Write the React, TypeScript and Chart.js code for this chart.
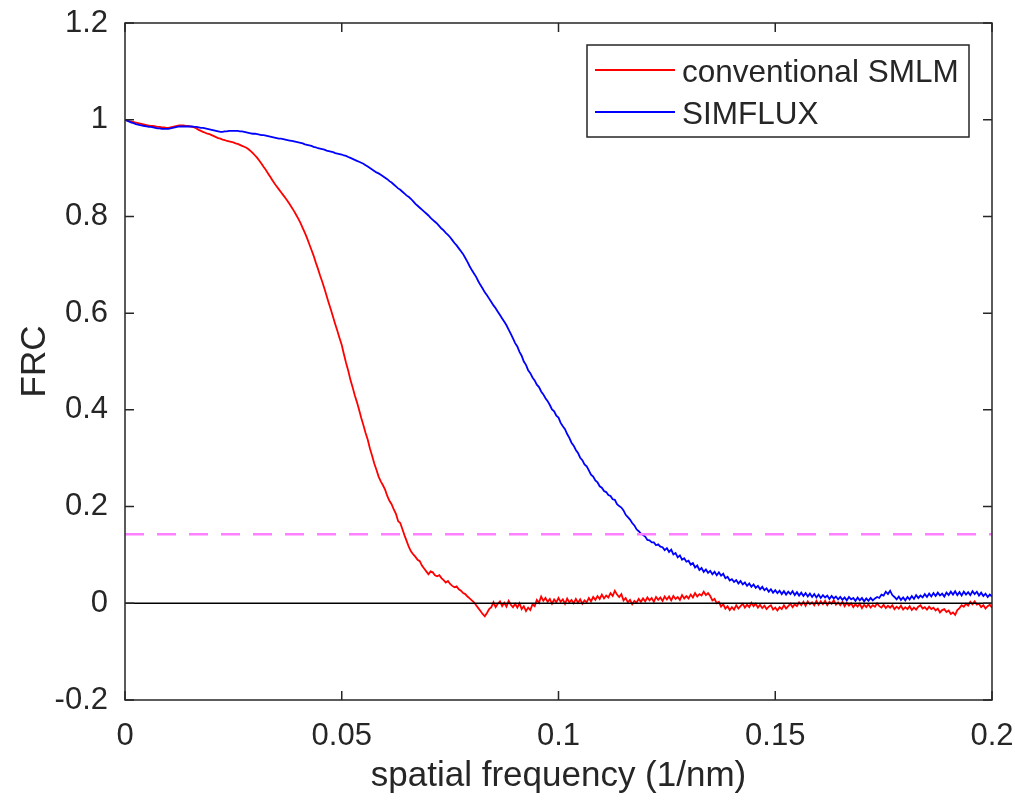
import React, { useEffect, useRef } from "react";
import { Chart, registerables } from "chart.js";

Chart.register(...registerables);

// sampling step of the spatial-frequency axis (1/nm)
const freqStep = 0.0005;

const conventionalSMLM = [
  1.0, 0.998, 0.997, 0.996, 0.995, 0.994, 0.993, 0.992, 0.991, 0.99,
  0.989, 0.988, 0.987, 0.987, 0.986, 0.985, 0.985, 0.984, 0.984, 0.983,
  0.983, 0.984, 0.985, 0.986, 0.987, 0.988, 0.988, 0.988, 0.987, 0.987,
  0.986, 0.985, 0.984, 0.982, 0.979, 0.977, 0.975, 0.973, 0.971, 0.97,
  0.968, 0.966, 0.964, 0.962, 0.961, 0.959, 0.958, 0.956, 0.955, 0.954,
  0.953, 0.951, 0.95, 0.948, 0.946, 0.944, 0.942, 0.939, 0.935, 0.931,
  0.926, 0.921, 0.915, 0.909, 0.902, 0.896, 0.889, 0.882, 0.875, 0.868,
  0.862, 0.856, 0.85, 0.844, 0.838, 0.832, 0.825, 0.818, 0.811, 0.803,
  0.795, 0.786, 0.776, 0.766, 0.755, 0.743, 0.731, 0.719, 0.705, 0.692,
  0.678, 0.665, 0.651, 0.636, 0.621, 0.607, 0.592, 0.577, 0.563, 0.548,
  0.534, 0.515, 0.497, 0.481, 0.462, 0.447, 0.43, 0.416, 0.4, 0.383,
  0.368, 0.352, 0.338, 0.32, 0.305, 0.289, 0.276, 0.262, 0.252, 0.244,
  0.235, 0.222, 0.212, 0.205, 0.194, 0.185, 0.17, 0.166, 0.153, 0.14,
  0.128, 0.116, 0.107, 0.101, 0.096, 0.09, 0.087, 0.078, 0.072, 0.066,
  0.06, 0.066, 0.064, 0.058, 0.056, 0.058, 0.052, 0.048, 0.043, 0.046,
  0.04, 0.036, 0.033, 0.035, 0.029, 0.026, 0.021, 0.019, 0.014, 0.01,
  0.006, 0.002, -0.004, -0.01, -0.016, -0.022, -0.027, -0.02, -0.012, -0.008,
  0.002, -0.008, -0.001, 0.004, -0.006, 0.001, -0.007, 0.005, -0.003, -0.008,
  -0.001, -0.009, 0.0, -0.012, -0.006, -0.016, -0.009, -0.014, -0.002, -0.006,
  0.007, 0.001, 0.014, 0.005, 0.011, 0.003, 0.009, -0.001, 0.008, 0.002,
  0.011, 0.003, 0.008, -0.001, 0.01, 0.002, 0.007, 0.0, 0.009, 0.001,
  0.008, -0.001, 0.006, 0.002, 0.011, 0.004, 0.013, 0.007, 0.015, 0.009,
  0.018, 0.01, 0.016, 0.012, 0.021, 0.015, 0.026, 0.018, 0.013, 0.019,
  0.006, 0.011, 0.002, 0.007, -0.002, 0.005, 0.001, 0.009, 0.003, 0.01,
  0.004, 0.012, 0.006, 0.011, 0.003, 0.013, 0.007, 0.012, 0.005, 0.014,
  0.008, 0.014, 0.006, 0.015, 0.009, 0.013, 0.007, 0.017, 0.01, 0.015,
  0.01, 0.018, 0.012, 0.021, 0.014, 0.019, 0.016, 0.024, 0.017, 0.021,
  0.015, 0.006, 0.009, 0.0, 0.003, -0.007, -0.002, -0.011, -0.006, -0.014,
  -0.008, -0.013, -0.004, -0.011, -0.006, -0.001, -0.009, -0.003, -0.008, 0.001,
  -0.006, -0.001, -0.009, -0.003, -0.01, -0.005, -0.012, -0.007, -0.004, -0.013,
  -0.009, -0.015, -0.008, -0.012, -0.004, -0.011, -0.006, -0.001, -0.008, -0.002,
  -0.006, 0.002, -0.004, 0.003, -0.005, 0.004, -0.002, 0.002, -0.004, 0.005,
  -0.003, 0.004, -0.002, 0.005, -0.004, 0.003, -0.001, 0.006, -0.003, 0.002,
  -0.004, 0.003, -0.006, 0.001, -0.005, 0.0, -0.008, -0.002, -0.007, -0.001,
  -0.01, -0.003, -0.008, -0.002, -0.009, -0.004, -0.007, 0.0, -0.006, -0.009,
  -0.003, -0.01, -0.005, -0.009, -0.004, -0.012, -0.007, -0.011, -0.005, -0.013,
  -0.008, -0.012, -0.006, -0.014, -0.009, -0.013, -0.007, -0.004, -0.011, -0.008,
  -0.013, -0.007, -0.012, -0.009, -0.015, -0.011, -0.019, -0.014, -0.012, -0.018,
  -0.015, -0.022, -0.019, -0.024, -0.014, -0.01, -0.004, -0.007, -0.001, -0.005,
  0.003, -0.002, 0.004, -0.003, -0.001, -0.008, -0.004, -0.011, -0.006, -0.003,
  -0.009,
];

const simflux = [
  1.0, 0.998, 0.996, 0.994, 0.993, 0.991, 0.99, 0.989, 0.988, 0.987,
  0.986, 0.985, 0.985, 0.984, 0.983, 0.982, 0.982, 0.981, 0.981, 0.981,
  0.981, 0.982, 0.983, 0.984, 0.985, 0.986, 0.986, 0.986, 0.986, 0.986,
  0.986, 0.986, 0.985, 0.985, 0.984, 0.983, 0.983, 0.982, 0.981, 0.98,
  0.979, 0.978, 0.977, 0.976, 0.975, 0.975, 0.976, 0.976, 0.977, 0.977,
  0.977, 0.977, 0.977, 0.976, 0.976, 0.975, 0.974, 0.973, 0.972, 0.971,
  0.971, 0.97, 0.969, 0.968, 0.968, 0.967, 0.966, 0.965, 0.964, 0.963,
  0.962, 0.961, 0.961, 0.96, 0.959, 0.958, 0.957, 0.956, 0.955, 0.954,
  0.953, 0.952, 0.951, 0.949, 0.948, 0.947, 0.946, 0.944, 0.943, 0.941,
  0.94, 0.939, 0.938, 0.936, 0.935, 0.934, 0.933, 0.931, 0.93, 0.929,
  0.928, 0.926, 0.925, 0.923, 0.921, 0.919, 0.917, 0.915, 0.913, 0.911,
  0.909, 0.906, 0.903, 0.9, 0.897, 0.894, 0.891, 0.889, 0.886, 0.883,
  0.88, 0.877, 0.873, 0.87, 0.866, 0.862, 0.858, 0.855, 0.851, 0.847,
  0.843, 0.84, 0.836, 0.831, 0.826, 0.822, 0.818, 0.814, 0.81, 0.806,
  0.802, 0.797, 0.793, 0.789, 0.785, 0.78, 0.775, 0.771, 0.766, 0.762,
  0.757, 0.751, 0.745, 0.74, 0.734, 0.728, 0.722, 0.714, 0.706, 0.697,
  0.689, 0.682, 0.675, 0.666, 0.658, 0.651, 0.643, 0.637, 0.63, 0.623,
  0.616, 0.61, 0.603, 0.596, 0.589, 0.582, 0.575, 0.566, 0.557, 0.548,
  0.538, 0.531, 0.52, 0.512, 0.5, 0.493, 0.482, 0.476, 0.467, 0.461,
  0.452, 0.447, 0.438, 0.432, 0.424, 0.418, 0.41, 0.401, 0.397, 0.388,
  0.384, 0.373, 0.366, 0.36, 0.35, 0.342, 0.332, 0.326, 0.317, 0.311,
  0.301, 0.296, 0.287, 0.283, 0.275, 0.266, 0.262, 0.254, 0.25, 0.242,
  0.239, 0.232, 0.23, 0.224, 0.222, 0.215, 0.214, 0.205, 0.201, 0.198,
  0.192, 0.183, 0.178, 0.173, 0.166, 0.161, 0.153, 0.149, 0.144, 0.141,
  0.138, 0.131, 0.13, 0.126, 0.126, 0.12, 0.122, 0.117, 0.116, 0.11,
  0.114, 0.106, 0.111, 0.101, 0.104, 0.095, 0.099, 0.09, 0.093, 0.086,
  0.088, 0.08, 0.083, 0.074, 0.078, 0.069, 0.073, 0.065, 0.07, 0.063,
  0.067, 0.06, 0.065, 0.058, 0.064, 0.057, 0.061, 0.052, 0.055, 0.047,
  0.05, 0.044, 0.048, 0.041, 0.046, 0.039, 0.043, 0.036, 0.041, 0.034,
  0.039, 0.032, 0.036, 0.029, 0.034, 0.027, 0.031, 0.024, 0.029, 0.022,
  0.027, 0.021, 0.026, 0.019, 0.025, 0.018, 0.024, 0.019, 0.025, 0.017,
  0.023, 0.016, 0.022, 0.015, 0.021, 0.014, 0.02, 0.013, 0.019, 0.012,
  0.018, 0.011, 0.017, 0.012, 0.016, 0.009, 0.015, 0.01, 0.014, 0.008,
  0.013, 0.007, 0.012, 0.006, 0.013, 0.008, 0.011, 0.005, 0.012, 0.006,
  0.011, 0.004, 0.01, 0.005, 0.011, 0.006, 0.01, 0.013, 0.011, 0.018,
  0.016, 0.024, 0.019, 0.026, 0.017, 0.013, 0.008, 0.014, 0.007, 0.012,
  0.006, 0.013, 0.008, 0.015, 0.009, 0.017, 0.011, 0.016, 0.012, 0.019,
  0.013, 0.02, 0.014, 0.021, 0.015, 0.022, 0.016, 0.02, 0.014, 0.022,
  0.017, 0.024, 0.018, 0.025, 0.017, 0.023, 0.016, 0.024, 0.018, 0.023,
  0.017, 0.025, 0.019, 0.024, 0.016, 0.022, 0.015, 0.02, 0.013, 0.018,
  0.014,
];

const thresholdValue = 1 / 7;
const xRange = [0, 0.2];
const yRange = [-0.2, 1.2];
const xTicks = [0, 0.05, 0.1, 0.15, 0.2];
const xTickLabels = ["0", "0.05", "0.1", "0.15", "0.2"];
const yTicks = [-0.2, 0, 0.2, 0.4, 0.6, 0.8, 1, 1.2];
const yTickLabels = ["-0.2", "0", "0.2", "0.4", "0.6", "0.8", "1", "1.2"];
const seriesLabels = ["conventional SMLM", "SIMFLUX"];
const xTitle = "spatial frequency (1/nm)";
const yTitle = "FRC";

const FONT = "'Liberation Sans', Arial, Helvetica, sans-serif";
const AXIS_COLOR = "#262626";

const toPoints = (vals: number[]) => vals.map((v, i) => ({ x: i * freqStep, y: v }));

const framePlugin = {
  id: "matlabFrame",
  afterDraw(chart: any) {
    const { ctx, chartArea: a, scales } = chart;
    ctx.save();
    // box
    ctx.strokeStyle = AXIS_COLOR;
    ctx.lineWidth = 1.5;
    ctx.strokeRect(a.left, a.top, a.right - a.left, a.bottom - a.top);
    // inward ticks on all sides
    const tl = 9;
    ctx.beginPath();
    for (const t of scales.x.ticks) {
      const px = scales.x.getPixelForValue(t.value);
      ctx.moveTo(px, a.bottom);
      ctx.lineTo(px, a.bottom - tl);
      ctx.moveTo(px, a.top);
      ctx.lineTo(px, a.top + tl);
    }
    for (const t of scales.y.ticks) {
      const py = scales.y.getPixelForValue(t.value);
      ctx.moveTo(a.left, py);
      ctx.lineTo(a.left + tl, py);
      ctx.moveTo(a.right, py);
      ctx.lineTo(a.right - tl, py);
    }
    ctx.stroke();

    // axis titles
    ctx.fillStyle = AXIS_COLOR;
    ctx.font = `35px ${FONT}`;
    ctx.textAlign = "center";
    ctx.textBaseline = "middle";
    ctx.fillText(xTitle, (a.left + a.right) / 2, a.bottom + 76);
    ctx.save();
    ctx.translate(a.left - 90, (a.top + a.bottom) / 2);
    ctx.rotate(-Math.PI / 2);
    ctx.fillText(yTitle, 0, 0);
    ctx.restore();

    // legend
    const lw = 382, lh = 92;
    const lx = a.right - 23 - lw, ly = a.top + 22;
    ctx.fillStyle = "#ffffff";
    ctx.fillRect(lx, ly, lw, lh);
    ctx.strokeStyle = AXIS_COLOR;
    ctx.lineWidth = 1.5;
    ctx.strokeRect(lx, ly, lw, lh);
    const rows = [
      { ds: chart.data.datasets[3], y: ly + 26 },
      { ds: chart.data.datasets[2], y: ly + 68 },
    ];
    ctx.font = `31.5px ${FONT}`;
    ctx.textAlign = "left";
    ctx.textBaseline = "middle";
    for (const r of rows) {
      ctx.strokeStyle = r.ds.borderColor;
      ctx.lineWidth = 1.8;
      ctx.beginPath();
      ctx.moveTo(lx + 8, r.y - 1);
      ctx.lineTo(lx + 88, r.y - 1);
      ctx.stroke();
      ctx.fillStyle = AXIS_COLOR;
      ctx.fillText(r.ds.label, lx + 95, r.y + 2);
    }
    ctx.restore();
  },
};

export default function App() {
  const ref = useRef<HTMLCanvasElement | null>(null);
  useEffect(() => {
    if (!ref.current) return;
    const chart = new Chart(ref.current, {
      type: "line",
      data: {
        datasets: [
          {
            label: "zero",
            data: [{ x: xRange[0], y: 0 }, { x: xRange[1], y: 0 }],
            borderColor: "#000000",
            borderWidth: 1.5,
            pointRadius: 0,
          },
          {
            label: "threshold",
            data: [{ x: xRange[0], y: thresholdValue }, { x: xRange[1], y: thresholdValue }],
            borderColor: "#ff80ff",
            borderWidth: 2.5,
            borderDash: [19, 13],
            pointRadius: 0,
          },
          {
            label: seriesLabels[1],
            data: toPoints(simflux),
            borderColor: "#0000ff",
            borderWidth: 1.8,
            pointRadius: 0,
            tension: 0,
          },
          {
            label: seriesLabels[0],
            data: toPoints(conventionalSMLM),
            borderColor: "#ff0000",
            borderWidth: 1.8,
            pointRadius: 0,
            tension: 0,
          },
        ],
      },
      options: {
        responsive: false,
        animation: false,
        devicePixelRatio: 1,
        layout: { padding: { left: 0, right: 23, top: 23, bottom: 0 } },
        plugins: { legend: { display: false }, tooltip: { enabled: false } },
        scales: {
          x: {
            type: "linear",
            min: xRange[0],
            max: xRange[1],
            grid: { display: false, drawTicks: false },
            border: { display: false },
            afterBuildTicks: (s: any) => {
              s.ticks = xTicks.map((v) => ({ value: v }));
            },
            afterFit: (s: any) => {
              s.height = 101;
              s.paddingLeft = 0;
              s.paddingRight = 0;
              s.paddingTop = 0;
              s.paddingBottom = 0;
            },
            ticks: {
              maxRotation: 0,
              autoSkip: false,
              padding: 18,
              color: AXIS_COLOR,
              font: { family: FONT, size: 31 },
              callback: (_v: any, i: number) => xTickLabels[i],
            },
          },
          y: {
            type: "linear",
            min: yRange[0],
            max: yRange[1],
            grid: { display: false, drawTicks: false },
            border: { display: false },
            afterBuildTicks: (s: any) => {
              s.ticks = yTicks.map((v) => ({ value: v }));
            },
            afterFit: (s: any) => {
              s.width = 125;
              s.paddingLeft = 0;
              s.paddingRight = 0;
              s.paddingTop = 0;
              s.paddingBottom = 0;
            },
            ticks: {
              autoSkip: false,
              padding: 17,
              color: AXIS_COLOR,
              font: { family: FONT, size: 31 },
              callback: (_v: any, i: number) => yTickLabels[i],
            },
          },
        },
      },
      plugins: [framePlugin],
    });
    return () => chart.destroy();
  }, []);
  return (
    <div style={{ position: "fixed", left: 0, top: 0, width: 1015, height: 801, background: "#fff" }}>
      <canvas ref={ref} width={1015} height={801} />
    </div>
  );
}
